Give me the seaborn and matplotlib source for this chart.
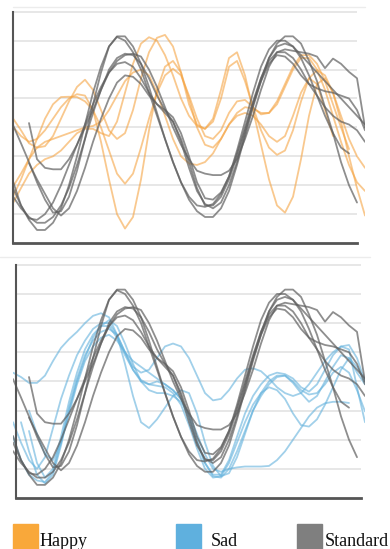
"""
plot.py
Happy / Sad vs Standard curves, two stacked panels with a colour key below
"""

import numpy as np
import pandas as pd
import matplotlib
matplotlib.use('Agg')
import matplotlib.pyplot as plt
from matplotlib.patches import Rectangle
from matplotlib.lines import Line2D
import seaborn as sns

nan = np.nan

# sample positions along the time axis (every 8 units, 0..352)
steps = list(range(0, 353, 8))

# Standard curves (same in both panels)
std_1 = [4.08, 3.45, 2.80, 2.10, 1.50, 1.05, 1.10, 1.60, 2.50,
         3.60, 4.80, 5.90, 6.80, 7.13, 7.00, 6.60, 6.00, 5.20,
         4.40, 3.60, 2.80, 2.10, 1.50, 1.10, 0.90, 0.90, 1.20,
         1.80, 2.70, 3.70, 4.70, 5.60, 6.40, 6.90, 7.15, 7.15,
         6.90, 6.30, 5.60, 4.70, 3.80, 2.80, 2.00, 1.40, nan]
std_2 = [nan, nan, 4.15, 2.90, 2.60, 2.55, 2.55, 2.90, 3.40,
         4.00, 4.60, 5.30, 5.90, 6.30, 6.50, 6.55, 6.45, 6.00,
         5.40, 4.70, 4.00, 3.40, 2.90, 2.50, 2.40, 2.35, 2.35,
         2.50, 2.90, 3.60, 4.40, 5.30, 6.10, 6.60, 6.70, 6.65,
         6.60, 6.55, 6.45, 6.05, 6.38, 6.20, 5.92, 5.70, 4.00]
std_3 = [2.13, 1.30, 0.85, 0.80, 1.00, 1.40, 2.00, 2.70, 3.40,
         4.10, 4.80, 5.40, 5.90, 6.20, 6.26, 6.10, 5.70, 5.20,
         4.80, 4.50, 4.20, 3.60, 2.80, 1.90, 1.30, 1.30, 1.60,
         2.20, 3.00, 3.90, 4.80, 5.60, 6.20, 6.50, 6.45, 6.20,
         5.80, 5.50, 5.35, 5.25, 5.20, 5.10, 5.00, 4.60, 3.90]
std_4 = [1.90, 1.30, 0.80, 0.45, 0.45, 0.70, 1.20, 2.00, 3.00,
         4.10, 5.20, 6.10, 6.80, 7.15, 7.15, 6.80, 6.20, 5.40,
         4.50, 3.60, 2.80, 2.10, 1.60, 1.30, 1.25, 1.35, 1.70,
         2.30, 3.20, 4.20, 5.20, 6.10, 6.70, 7.00, 7.00, 6.80,
         6.40, 5.80, 5.10, 4.40, 3.80, 3.30, 3.10, nan, nan]
std_5 = [nan, nan, 2.76, 2.20, 1.70, 1.20, 0.95, 1.20, 1.80,
         2.60, 3.50, 4.30, 5.00, 5.55, 5.80, 5.75, 5.50, 5.10,
         4.80, 4.60, 4.35, 3.80, 3.00, 2.10, 1.55, 1.50, 1.75,
         2.30, 3.10, 4.00, 4.90, 5.70, 6.30, 6.60, 6.60, 6.40,
         6.00, 5.50, 5.10, 4.70, 4.40, 4.20, 4.10, 3.90, 3.50]
std_6 = [1.61, 1.20, 0.90, 0.70, 0.70, 0.90, 1.30, 1.90, 2.70,
         3.60, 4.50, 5.30, 6.00, 6.40, 6.55, 6.50, 6.20, 5.70,
         5.10, 4.60, 4.20, 3.50, 2.60, 1.80, 1.35, 1.20, 1.40,
         2.00, 2.80, 3.80, 4.80, 5.70, 6.40, 6.80, 6.90, 6.80,
         6.50, 6.20, 5.90, 5.60, 5.30, 5.00, 4.70, 4.40, 4.10]

# Happy curves (top panel)
happy_1 = [4.31, 3.90, 3.45, 3.30, 3.35, 3.70, 4.30, 4.90, 5.40,
           5.65, 5.30, 4.60, 3.90, 3.60, 3.80, 4.60, 5.70, 6.60,
           7.10, 7.20, 6.80, 5.90, 4.80, 4.10, 3.95, 4.30, 5.30,
           6.40, 6.60, 5.80, 4.60, 3.40, 2.20, 1.30, 1.05, 1.60,
           2.90, 4.40, 5.50, 5.70, 5.20, 4.20, 3.00, 1.90, 0.95]
happy_2 = [1.38, 1.90, 2.40, 2.70, 2.90, 3.00, 3.20, 3.50, 3.80,
           3.95, 3.95, 3.80, 3.70, 4.20, 5.20, 6.20, 6.90, 7.12,
           7.00, 6.50, 5.80, 5.00, 4.40, 4.05, 3.95, 4.20, 5.00,
           6.10, 6.30, 5.60, 4.70, 3.90, 3.30, 3.05, 3.20, 3.90,
           4.90, 5.70, 5.98, 5.80, 5.20, 4.40, 3.60, 3.00, 2.60]
happy_3 = [1.61, 2.20, 2.90, 3.60, 4.30, 4.80, 5.05, 5.06, 5.05,
           4.90, 4.60, 4.00, 3.20, 2.40, 2.05, 2.40, 3.30, 4.30,
           5.20, 5.80, 6.03, 5.80, 5.10, 4.30, 3.70, 3.60, 3.90,
           4.50, 4.90, 4.95, 4.70, 4.45, 4.50, 4.90, 5.50, 6.10,
           6.50, 6.50, 6.20, 5.60, 4.80, 4.00, 3.25, nan, nan]
happy_4 = [4.02, 3.70, 3.50, 3.60, 3.90, 4.30, 4.70, 5.00, 5.15,
           5.10, 4.60, 3.50, 2.20, 1.00, 0.50, 0.90, 2.20, 3.90,
           5.30, 6.10, 6.30, 5.90, 5.00, 4.00, 3.40, 3.30, 3.60,
           4.10, 4.50, 4.70, 4.65, 4.50, 4.50, 4.80, 5.40, 6.00,
           6.40, 6.40, 6.00, 5.30, 4.40, 3.50, 2.70, 2.10, 1.80]
happy_5 = [1.95, 2.40, 2.90, 3.30, 3.50, 3.60, 3.70, 3.80, 3.90,
           4.00, 4.05, 4.20, 4.60, 5.10, 5.60, 5.90, 6.00, 5.80,
           5.20, 4.40, 3.60, 3.00, 2.75, 2.70, 2.80, 3.10, 3.60,
           4.10, 4.40, 4.50, 4.40, 4.10, 3.70, 3.50, 3.70, 4.40,
           5.20, 5.70, 5.50, 4.60, 3.70, nan, nan, nan, nan]

# Sad curves (bottom panel)
sad_1 = [4.30, 4.15, 3.95, 3.95, 4.20, 4.70, 5.15, 5.45, 5.70,
         6.00, 6.25, 6.34, 6.20, 5.60, 4.60, 3.50, 2.60, 2.40,
         2.70, 3.10, 3.50, 3.70, 3.60, 2.90, 1.90, 1.10, 0.75,
         0.85, 1.40, 2.20, 3.00, 3.60, 4.00, 4.20, 4.20, 3.95,
         3.60, 3.30, 3.50, 4.00, 4.50, 4.90, 4.80, 4.30, 3.90]
sad_2 = [2.60, 1.90, 1.30, 1.00, 1.40, 2.40, 3.40, 4.20, 4.90,
         5.40, 5.80, 6.00, 6.00, 5.60, 5.00, 4.50, 4.30, 4.40,
         4.80, 5.20, 5.30, 5.20, 4.80, 4.20, 3.60, 3.35, 3.40,
         3.70, 4.10, 4.40, 4.45, 4.35, 4.10, 3.80, 3.60, 3.50,
         3.60, 3.90, 4.30, 4.70, 5.00, 5.20, 5.25, 4.80, 4.00]
sad_3 = [nan, 2.60, 1.60, 0.80, 0.50, 0.80, 1.80, 3.00, 4.00,
         4.80, 5.50, 5.90, 6.10, 5.90, 5.30, 4.60, 4.00, 3.70,
         3.60, 3.60, 3.50, 3.30, 2.90, 2.20, 1.50, 1.00, 0.90,
         1.00, 1.05, 1.08, 1.08, 1.08, 1.10, 1.30, 1.60, 2.00,
         2.40, 2.80, 3.10, 3.25, 3.30, 3.30, 3.26, nan, nan]
sad_4 = [2.10, 1.30, 0.80, 0.60, 0.55, 0.90, 1.90, 3.10, 4.10,
         4.90, 5.40, 5.70, 5.80, 5.60, 5.00, 4.40, 4.00, 3.90,
         4.00, 3.90, 3.70, 3.40, 2.80, 2.00, 1.20, 0.75, 0.70,
         1.00, 1.60, 2.30, 3.00, 3.50, 3.90, 4.15, 4.20, 4.00,
         3.70, 3.55, 3.60, 3.90, 4.30, 4.50, 4.30, 3.70, 2.97]
sad_5 = [nan, nan, 2.30, 1.20, 0.70, 1.00, 2.10, 3.30, 4.30,
         5.10, 5.60, 5.90, 5.90, 5.50, 4.90, 4.40, 4.05, 3.90,
         3.85, 3.80, 3.60, 3.20, 2.50, 1.70, 1.00, 0.70, 0.75,
         1.20, 1.90, 2.60, 3.20, 3.60, 3.80, 3.70, 3.40, 2.90,
         2.50, 2.45, 2.70, 3.20, 3.80, 4.40, 4.80, 4.50, 4.00]
sad_6 = [nan, nan, 3.00, 2.20, 1.50, 1.30, 1.90, 2.90, 3.90,
         4.70, 5.20, 5.50, 5.60, 5.40, 5.00, 4.70, 4.50, 4.30,
         4.10, 3.90, 3.70, 3.40, 2.70, 1.90, 1.20, 0.80, 0.80,
         1.30, 2.10, 2.90, 3.50, 3.90, 4.20, 4.30, 4.25, 4.10,
         3.80, 3.65, 3.90, 4.40, 4.90, 5.20, 5.10, 3.80, 2.60]

legend_labels = ['Happy', 'Sad', 'Standard']
colors = {'Happy': '#F5A443', 'Sad': '#62B1DC', 'Standard': '#5E5E5E'}
patch_colors = ['#F9A83A', '#5FB0DE', '#7F7F7F']


def to_frame(curves, prefix):
    rows = []
    for i, vals in enumerate(curves):
        for x, v in zip(steps, vals):
            rows.append((f'{prefix}{i}', x, v))
    return pd.DataFrame(rows, columns=['curve', 'x', 'v']).dropna()


std_df = to_frame([std_1, std_2, std_3, std_4, std_5, std_6], 'std')
happy_df = to_frame([happy_1, happy_2, happy_3, happy_4, happy_5], 'happy')
sad_df = to_frame([sad_1, sad_2, sad_3, sad_4, sad_5, sad_6], 'sad')


def draw_panel(ax, df, color, spine_x=0, grid_end=344):
    # horizontal guide lines
    for level in range(1, 9):
        ax.hlines(level, spine_x, grid_end, color='#E3E3E3', lw=1.2, zorder=0)

    sns.lineplot(data=df, x='x', y='v', units='curve', estimator=None,
                 color=color, alpha=0.6, lw=1.3, ax=ax, legend=False)
    sns.lineplot(data=std_df, x='x', y='v', units='curve', estimator=None,
                 color=colors['Standard'], alpha=0.7, lw=1.3, ax=ax,
                 legend=False)

    ax.set_xlim(0, 352)
    ax.set_ylim(0, 8.2)
    ax.set_xticks([])
    ax.set_yticks([])
    ax.set_xlabel('')
    ax.set_ylabel('')
    ax.spines['top'].set_visible(False)
    ax.spines['right'].set_visible(False)
    ax.spines['left'].set_color('#555555')
    ax.spines['left'].set_linewidth(1.5)
    ax.spines['left'].set_bounds(0, 8)
    ax.spines['left'].set_position(('data', spine_x))
    ax.spines['bottom'].set_color('#555555')
    ax.spines['bottom'].set_linewidth(2)
    ax.spines['bottom'].set_bounds(spine_x, grid_end)


sns.set_style('white')
fig = plt.figure(figsize=(3.9, 5.49), dpi=100)

ax_top = fig.add_axes([13 / 390, 1 - 243 / 549, 352 / 390, 237 / 549])
ax_bot = fig.add_axes([13 / 390, 1 - 498 / 549, 352 / 390, 239 / 549])

draw_panel(ax_top, happy_df, colors['Happy'])
draw_panel(ax_bot, sad_df, colors['Sad'], spine_x=2.7, grid_end=348)

# faint frame lines of the pasted panels
fig.lines.append(Line2D([13 / 390, 365 / 390], [1 - 7 / 549, 1 - 7 / 549],
                        transform=fig.transFigure, color='#ECECEC', lw=1))
fig.lines.append(Line2D([0, 370 / 390], [1 - 257 / 549, 1 - 257 / 549],
                        transform=fig.transFigure, color='#ECECEC', lw=1))

# colour key
key_x = [13, 176, 297]
text_x = [40, 211, 325]
for kx, tx, lab, c in zip(key_x, text_x, legend_labels, patch_colors):
    fig.patches.append(Rectangle((kx / 390, 0), 25 / 390, 25 / 549,
                                 transform=fig.transFigure, color=c))
    fig.text(tx / 390, 3 / 549, lab, family='Liberation Serif',
             fontsize=13, va='baseline', color='#111111')

plt.savefig('out.png', dpi=100)
